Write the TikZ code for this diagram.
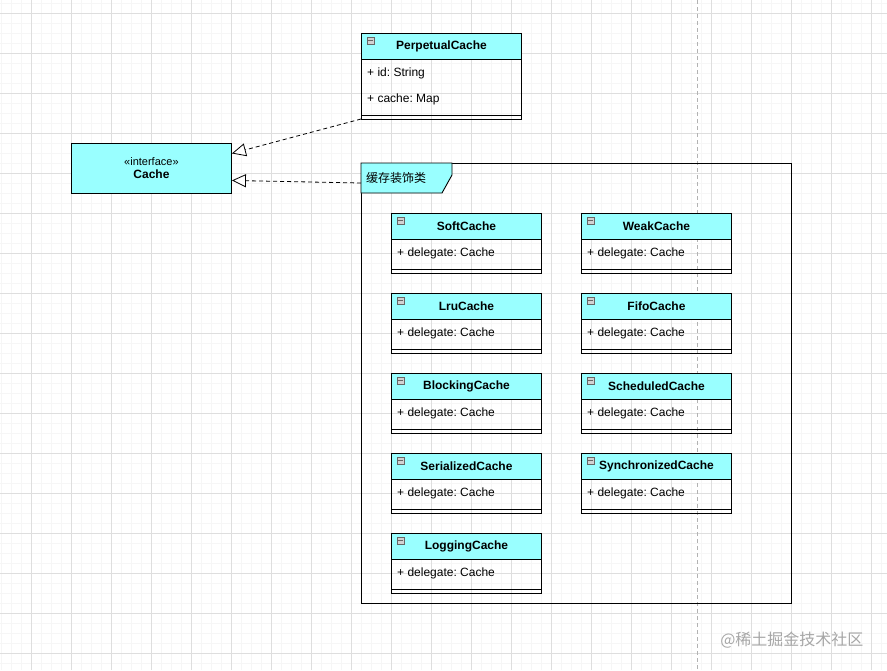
\documentclass[tikz,border=0pt]{standalone}
\usepackage{fontspec}
\setmainfont{Liberation Sans}
\newfontfamily\cjkfont{Noto Sans CJK SC}
\usetikzlibrary{arrows.meta}
\frenchspacing

\definecolor{umlcyan}{HTML}{99FFFF}
\definecolor{gridminor}{HTML}{F6F6F6}
\definecolor{gridmajor}{HTML}{DEDEDE}

\tikzset{
  clsline/.style={line width=0.9pt},
  clshead/.style={draw, clsline, fill=umlcyan, anchor=north west, inner sep=0pt,
    minimum width=150pt, minimum height=26pt, font=\fontsize{12}{14}\selectfont\bfseries},
  attrtext/.style={anchor=west, inner sep=0pt, font=\fontsize{12}{14}\selectfont},
  minusbox/.style={draw=gray!80!black, fill=gray!35, line width=0.5pt, inner sep=0pt,
    minimum size=7.5pt, path picture={\draw[line width=0.9pt]
      ([xshift=1.5pt]path picture bounding box.west) -- ([xshift=-1.5pt]path picture bounding box.east);}},
  realize/.style={line width=0.8pt, dash pattern=on 4pt off 3pt,
    -{Triangle[length=14pt, width=13pt, fill=white, line width=0.8pt]}},
}

% one decorator class: name, x, y
\newcommand{\decocls}[3]{%
  \draw[clsline] (#2,#3) rectangle ++(150,60);
  \node[clshead] (#1) at (#2,#3) {#1};
  \node[attrtext] (#1-attr) at ([xshift=6pt,yshift=-13pt]#1.south west) {+ delegate: Cache};
  \draw[clsline] (#2,#3+56) -- ++(150,0);
  \node[minusbox] at ([xshift=9.5pt,yshift=-7.5pt]#1.north west) {};
}

\begin{document}
\begin{tikzpicture}[x=1pt, y=-1pt]
  \useasboundingbox (0,0) rectangle (887,670);
  % background grid
  \foreach \gx in {1.5,11.5,...,881.5} \draw[gridminor, line width=0.5pt] (\gx,0) -- (\gx,670);
  \foreach \gy in {3,13,...,663} \draw[gridminor, line width=0.5pt] (0,\gy) -- (887,\gy);
  \foreach \gx in {31.5,71.5,...,871.5} \draw[gridmajor, line width=0.6pt] (\gx,0) -- (\gx,670);
  \foreach \gy in {13,53,...,653} \draw[gridmajor, line width=0.6pt] (0,\gy) -- (887,\gy);
  \draw[gray!60, dash pattern=on 4pt off 3pt, line width=0.6pt] (697.5,0) -- (697.5,670);

  % interface
  \node[draw, clsline, fill=umlcyan, anchor=north west, minimum width=160pt, minimum height=50pt,
    align=center, font=\fontsize{12}{14}\selectfont] (cache) at (71,143)
    {{\fontsize{11}{13}\selectfont «interface»}\\[-1pt]\textbf{Cache}};

  % PerpetualCache
  \draw[clsline] (361,33) rectangle ++(160,86);
  \node[clshead, minimum width=160pt] (perpetual) at (361,33) {PerpetualCache};
  \node[attrtext] (perpetual-id) at ([xshift=6pt,yshift=-13.5pt]perpetual.south west) {+ id: String};
  \node[attrtext] (perpetual-map) at ([yshift=-26pt]perpetual-id.west) {+ cache: Map};
  \draw[clsline] (361,115) -- ++(160,0);
  \node[minusbox] at ([xshift=9.5pt,yshift=-7.5pt]perpetual.north west) {};

  % decorator frame
  \node[draw, clsline, anchor=north west, minimum width=430pt, minimum height=440pt] (frame) at (361,163) {};
  \draw[clsline, fill=umlcyan] (frame.north west) -- ++(91,0) -- ++(0,12) -- ++(-10,18) -- ++(-81,0) -- cycle;
  \node[anchor=west, inner sep=0pt, font=\cjkfont\fontsize{12}{14}\selectfont] (frame-label)
    at ([xshift=5pt,yshift=-15pt]frame.north west) {缓存装饰类};

  \decocls{SoftCache}{391}{213}
  \decocls{WeakCache}{581}{213}
  \decocls{LruCache}{391}{293}
  \decocls{FifoCache}{581}{293}
  \decocls{BlockingCache}{391}{373}
  \decocls{ScheduledCache}{581}{373}
  \decocls{SerializedCache}{391}{453}
  \decocls{SynchronizedCache}{581}{453}
  \decocls{LoggingCache}{391}{533}

  % realizations
  \draw[realize] (perpetual.south west |- 0,119) -- ([yshift=15pt]cache.east);
  \draw[realize] ([yshift=-20pt]frame.north west) -- ([yshift=-12pt]cache.east);

  \node[anchor=east, text=gray!70, font=\cjkfont\fontsize{16}{18}\selectfont] (mark) at (867,640) {@稀土掘金技术社区};
\end{tikzpicture}
\end{document}
